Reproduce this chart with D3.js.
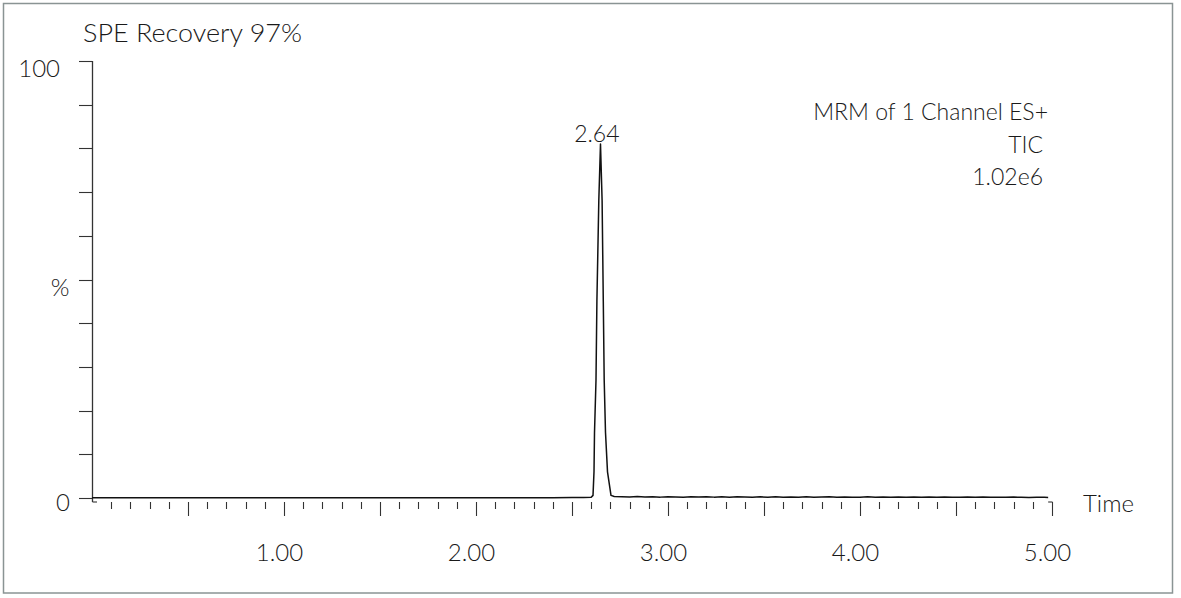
<!DOCTYPE html>
<html>
<head>
<meta charset="utf-8">
<script src="https://cdn.jsdelivr.net/npm/d3@7/dist/d3.min.js"></script>
<style>
  html, body { margin: 0; padding: 0; background: #fff; }
  svg { display: block; }
  text { font-family: Lato, "Open Sans", sans-serif; font-weight: 300; fill: #1a1a1a; }
</style>
</head>
<body>
<svg id="chart" width="1181" height="598"></svg>
<script>
// ---- data ----
const title = "SPE Recovery 97%";
const infoLines = ["MRM of 1 Channel ES+", "TIC", "1.02e6"];
const peakLabel = "2.64";
const peakTime = 2.645;
const xTickLabels = ["1.00", "2.00", "3.00", "4.00", "5.00"];
const yTickLabels = ["0", "100"];
const yAxisLabel = "%";
const xAxisLabel = "Time";

// retention time (min)
const times = [
  0.00, 0.10, 0.20, 0.30, 0.40, 0.50, 0.60, 0.70, 0.80, 0.90,
  1.00, 1.10, 1.20, 1.30, 1.40, 1.50, 1.60, 1.70, 1.80, 1.90,
  2.00, 2.10, 2.20, 2.30, 2.40, 2.50, 2.56, 2.60,
  2.6094, 2.6146, 2.6172, 2.6250, 2.6297, 2.6396, 2.6484,
  2.6568, 2.6630, 2.6677, 2.6745, 2.6849, 2.7031, 2.720,
  2.76, 2.80, 2.84, 2.88, 2.92, 2.96, 3.00, 3.04, 3.08, 3.12,
  3.16, 3.20, 3.24, 3.28, 3.32, 3.36, 3.40, 3.44, 3.48, 3.52,
  3.56, 3.60, 3.64, 3.68, 3.72, 3.76, 3.80, 3.84, 3.88, 3.92,
  3.96, 4.00, 4.04, 4.08, 4.12, 4.16, 4.20, 4.24, 4.28, 4.32,
  4.36, 4.40, 4.44, 4.48, 4.52, 4.56, 4.60, 4.64, 4.68, 4.72,
  4.76, 4.80, 4.84, 4.88, 4.92, 4.96, 4.98
];
// relative intensity (%)
const intensity = [
  0.05, 0.05, 0.06, 0.05, 0.06, 0.05, 0.06, 0.05, 0.06, 0.05,
  0.06, 0.05, 0.06, 0.06, 0.05, 0.06, 0.05, 0.06, 0.06, 0.05,
  0.06, 0.07, 0.06, 0.08, 0.07, 0.10, 0.12, 0.15,
  0.6, 6, 15, 27, 45, 68, 81,
  68, 45, 27, 15, 6, 0.6, 0.35,
  0.30, 0.25, 0.32, 0.22, 0.28, 0.20, 0.30, 0.24, 0.18, 0.28,
  0.22, 0.30, 0.20, 0.26, 0.18, 0.28, 0.22, 0.17, 0.26, 0.20,
  0.28, 0.18, 0.24, 0.20, 0.27, 0.17, 0.22, 0.28, 0.18, 0.24,
  0.20, 0.16, 0.26, 0.20, 0.24, 0.15, 0.22, 0.18, 0.25, 0.17,
  0.22, 0.16, 0.24, 0.19, 0.15, 0.22, 0.18, 0.23, 0.16, 0.20,
  0.15, 0.21, 0.17, 0.14, 0.19, 0.15, 0.14
];

// ---- drawing ----
const svg = d3.select("#chart");

svg.append("rect")
  .attr("x", 3.5).attr("y", 3.5)
  .attr("width", 1169).attr("height", 589.5)
  .attr("fill", "none").attr("stroke", "#8a9494").attr("stroke-width", 1.5);

const x = d3.scaleLinear().domain([0, 5]).range([92, 1052]);
const y = d3.scaleLinear().domain([0, 100]).range([498, 61]);
const axisBottom = 502;

// y axis line
svg.append("line")
  .attr("x1", 92.5).attr("x2", 92.5)
  .attr("y1", y(100)).attr("y2", axisBottom)
  .attr("stroke", "#333").attr("stroke-width", 1.3);
// small foot of the axes
svg.append("line")
  .attr("x1", 92.5).attr("x2", 97)
  .attr("y1", axisBottom).attr("y2", axisBottom)
  .attr("stroke", "#333").attr("stroke-width", 1.1);
svg.append("line")
  .attr("x1", x(4.98)).attr("x2", x(5) + 0.5)
  .attr("y1", axisBottom).attr("y2", axisBottom)
  .attr("stroke", "#333").attr("stroke-width", 1.1);

// y ticks
svg.append("g").selectAll("line")
  .data(y.ticks(10))
  .join("line")
  .attr("x1", 79).attr("x2", 92.5)
  .attr("y1", d => Math.round(y(d)) + 0.5)
  .attr("y2", d => Math.round(y(d)) + 0.5)
  .attr("stroke", "#333").attr("stroke-width", 1.1);

// x ticks
svg.append("g").selectAll("line")
  .data(x.ticks(50).filter(d => d > 0.001))
  .join("line")
  .attr("x1", d => Math.round(x(d)) + 0.5)
  .attr("x2", d => Math.round(x(d)) + 0.5)
  .attr("y1", axisBottom)
  .attr("y2", d => (Math.abs(d * 2 - Math.round(d * 2)) < 1e-6) ? 516 : 509)
  .attr("stroke", "#333").attr("stroke-width", 1.1);

// x tick labels
svg.append("g").selectAll("text")
  .data(xTickLabels)
  .join("text")
  .attr("x", d => x(+d) - 4.5)
  .attr("y", 561)
  .attr("text-anchor", "middle")
  .attr("font-size", 24)
  .text(d => d);

// y tick labels
svg.append("text").attr("x", 60).attr("y", 77)
  .attr("text-anchor", "end").attr("font-size", 24).text(yTickLabels[1]);
svg.append("text").attr("x", 70).attr("y", 511)
  .attr("text-anchor", "end").attr("font-size", 24).text(yTickLabels[0]);

// axis labels
svg.append("text").attr("x", 60).attr("y", 296)
  .attr("text-anchor", "middle").attr("font-size", 24).text(yAxisLabel);
svg.append("text").attr("x", 1083).attr("y", 512)
  .attr("font-size", 24).text(xAxisLabel);

// title
svg.append("text").attr("x", 83).attr("y", 42)
  .attr("font-size", 26).attr("font-weight", 400)
  .attr("textLength", 219).attr("lengthAdjust", "spacingAndGlyphs")
  .text(title);

// info lines
const infoX = [1048, 1043, 1043];
const infoY = [120, 153, 185];
svg.append("g").selectAll("text")
  .data(infoLines)
  .join("text")
  .attr("x", (d, i) => infoX[i])
  .attr("y", (d, i) => infoY[i])
  .attr("text-anchor", "end")
  .attr("font-size", 23)
  .text(d => d);

// trace
const pts = times.map((t, i) => [t, intensity[i]]);
svg.append("path")
  .datum(pts)
  .attr("fill", "none")
  .attr("stroke", "#111")
  .attr("stroke-width", 1.5)
  .attr("stroke-linejoin", "round")
  .attr("d", d3.line().x(d => x(d[0])).y(d => y(d[1])));

// peak label
svg.append("text")
  .attr("x", x(peakTime) - 3)
  .attr("y", 142)
  .attr("text-anchor", "middle")
  .attr("font-size", 23)
  .text(peakLabel);
</script>
</body>
</html>
